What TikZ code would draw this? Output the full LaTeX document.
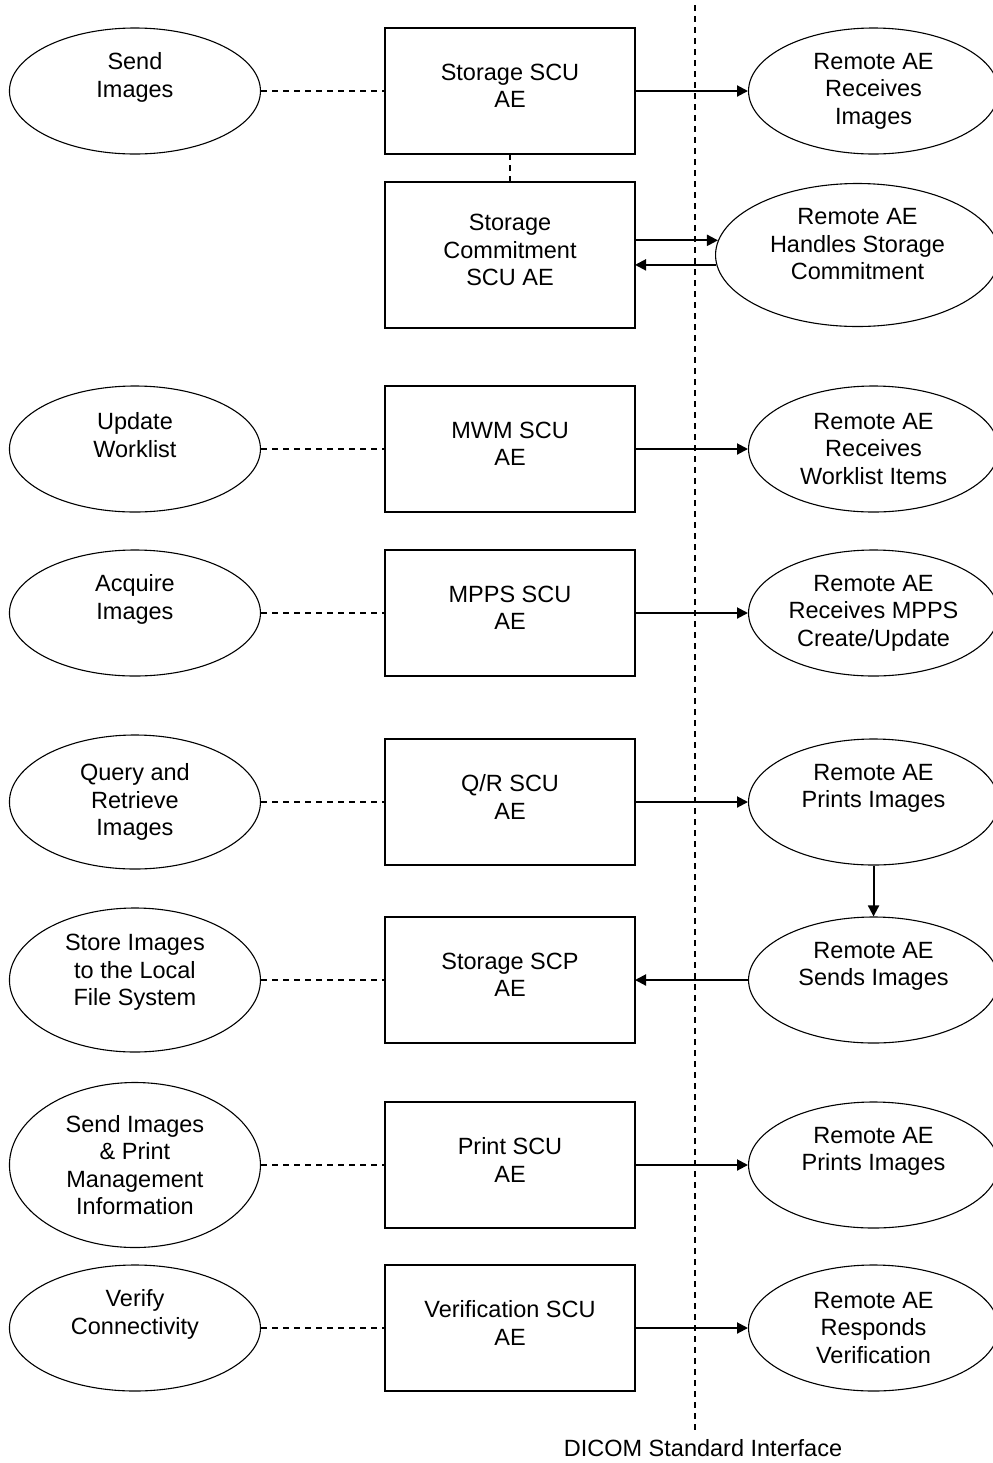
\documentclass[tikz,border=0pt]{standalone}
\usepackage{fontspec}
\setmainfont{Liberation Sans}
\usetikzlibrary{shapes.geometric, arrows.meta, positioning}

\begin{document}
\begin{tikzpicture}[
    	x=0.5pt, y=-0.5pt,
    	font=\fontsize{11.75}{13.75}\selectfont,
    	aebox/.style={rectangle, minimum width=125pt, minimum height=63pt, inner sep=0pt, outer sep=0pt, text depth=5pt, text centered, align=center, draw=black, line width=0.7pt},
    	usecase/.style={ellipse, minimum width=125.5pt, minimum height=63pt, inner sep=0pt, text centered, align=center, draw=black, line width=0.55pt},
    	remote/.style={ellipse, minimum width=125pt, minimum height=63pt, inner sep=0pt, text centered, align=center, draw=black, line width=0.55pt},
    	lift/.style={text depth=#1},
    	link/.style={dash pattern=on 3pt off 2.5pt, line width=0.6pt},
    	arrow/.style={line width=1pt, -{Triangle[length=5.5pt, width=5.5pt]}}
    	]
    	\useasboundingbox (0,0) rectangle (992,1463);
    	
    	% AE boxes in the middle
    	\node (scu) [aebox] at (510,91) {Storage SCU\\AE};
    	\node (commit) [aebox, below=14pt of scu, minimum height=73pt] {Storage\\Commitment\\SCU AE};
    	\node (mwm) [aebox, below=29pt of commit] {MWM SCU\\AE};
    	\node (mpps) [aebox, below=19pt of mwm] {MPPS SCU\\AE};
    	\node (qr) [aebox, below=31.5pt of mpps] {Q/R SCU\\AE};
    	\node (scp) [aebox, below=26pt of qr] {Storage SCP\\AE};
    	\node (print) [aebox, below=29.5pt of scp] {Print SCU\\AE};
    	\node (verify) [aebox, below=18.5pt of print] {Verification SCU\\AE};
    	
    	% local activities on the left
    	\node (send) [usecase, left=62pt of scu, lift=16pt] {Send\\Images};
    	\node (worklist) [usecase, left=62pt of mwm, lift=14pt] {Update\\Worklist};
    	\node (acquire) [usecase, left=62pt of mpps, lift=16pt] {Acquire\\Images};
    	\node (query) [usecase, left=62pt of qr, minimum height=67pt] {Query and\\Retrieve\\Images};
    	\node (store) [usecase, left=62pt of scp, minimum height=72pt, lift=10pt] {Store Images\\to the Local\\File System};
    	\node (sendprint) [usecase, left=62pt of print, minimum height=82.5pt] {Send Images\\\& Print\\Management\\Information};
    	\node (connect) [usecase, left=62pt of verify, lift=16pt] {Verify\\Connectivity};
    	
    	% remote activities on the right
    	\node (recv) [remote, right=56.5pt of scu] {Remote AE\\Receives\\Images};
    	\node (handles) [remote, right=40pt of commit, minimum width=142pt, minimum height=71.5pt, lift=11pt] {Remote AE\\Handles Storage\\Commitment};
    	\node (items) [remote, right=56.5pt of mwm] {Remote AE\\Receives\\Worklist Items};
    	\node (mppsrecv) [remote, right=56.5pt of mpps] {Remote AE\\Receives MPPS\\Create/Update};
    	\node (prints) [remote, right=56.5pt of qr, lift=16pt] {Remote AE\\Prints Images};
    	\node (sends) [remote, right=56.5pt of scp, lift=16pt] {Remote AE\\Sends Images};
    	\node (printsb) [remote, right=56.5pt of print, lift=16pt] {Remote AE\\Prints Images};
    	\node (responds) [remote, right=56.5pt of verify] {Remote AE\\Responds\\Verification};
    	
    	% interface line
    	\coordinate (top) at (695,5);
    	\node (iface) at (703,1448) {DICOM Standard Interface};
    	\draw [link] (top) -- (top |- iface.north);
    	
    	% dashed links
    	\draw [link] (send) -- (scu);
    	\draw [link] (scu) -- (commit);
    	\draw [link] (worklist) -- (mwm);
    	\draw [link] (acquire) -- (mpps);
    	\draw [link] (query) -- (qr);
    	\draw [link] (store) -- (scp);
    	\draw [link] (sendprint) -- (print);
    	\draw [link] (connect) -- (verify);
    	
    	% arrows
    	\draw [arrow] (scu) -- (recv);
    	\draw [arrow] (commit.east |- handles.174) -- (handles.174);
    	\draw [arrow] (handles.184) -- (commit.east |- handles.184);
    	\draw [arrow] (mwm) -- (items);
    	\draw [arrow] (mpps) -- (mppsrecv);
    	\draw [arrow] (qr) -- (prints);
    	\draw [arrow] (prints) -- (sends);
    	\draw [arrow] (sends) -- (scp);
    	\draw [arrow] (print) -- (printsb);
    	\draw [arrow] (verify) -- (responds);
    	
    \end{tikzpicture}
\end{document}
